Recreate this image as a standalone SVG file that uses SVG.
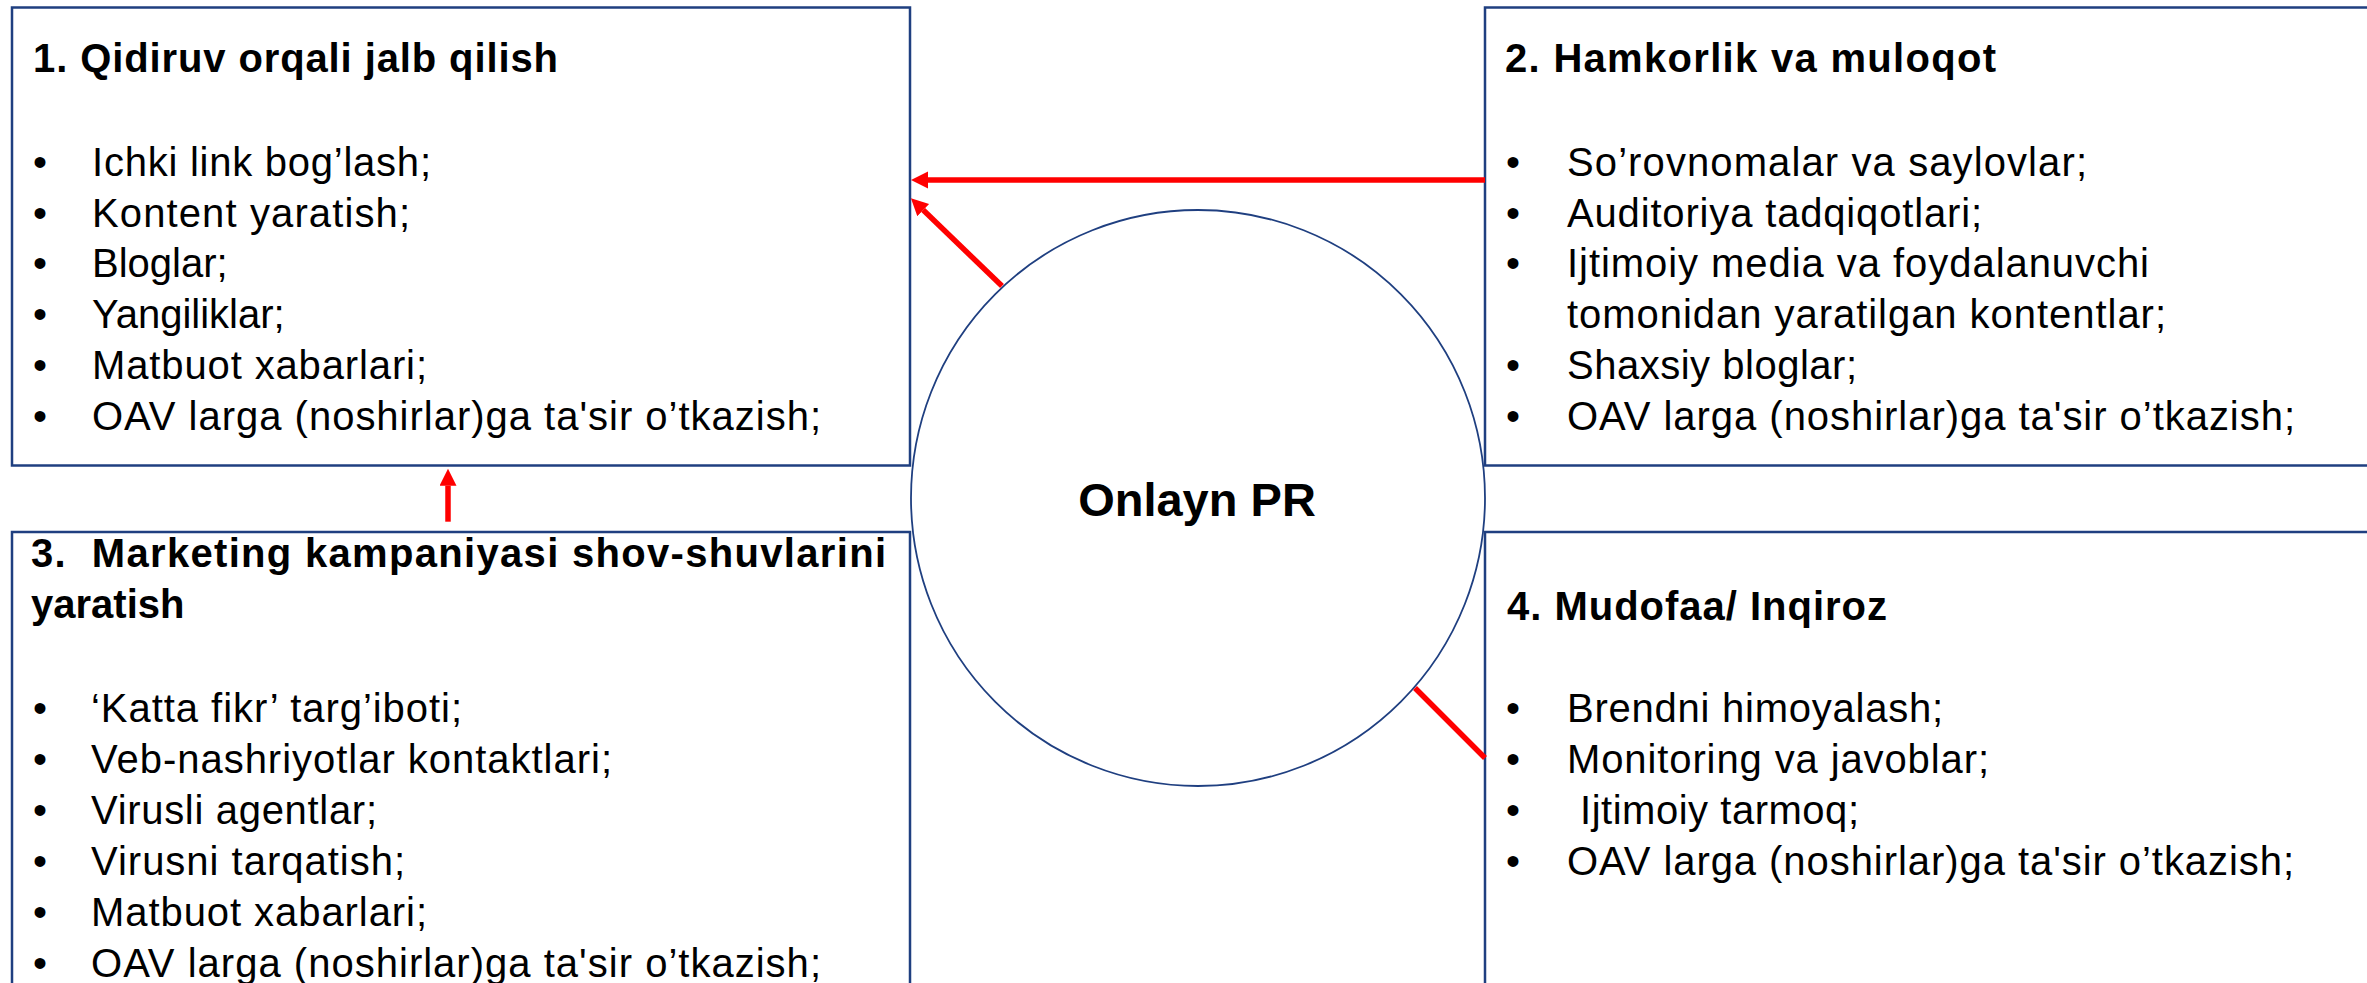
<svg xmlns="http://www.w3.org/2000/svg" width="2367" height="983" viewBox="0 0 2367 983">
<style>
.box{fill:#FFFFFF;stroke:#1F3F80;stroke-width:2.5}
.circ{fill:#FFFFFF;stroke:#1F3F80;stroke-width:1.8}
.h{font-family:"Liberation Sans",Arial,sans-serif;font-weight:bold;font-size:40px;fill:#000000}
.i{font-family:"Liberation Sans",Arial,sans-serif;font-size:40px;fill:#000000}
.c{font-family:"Liberation Sans",Arial,sans-serif;font-weight:bold;font-size:47px;fill:#000000}
.con{stroke:#FF0000;stroke-width:5.5;fill:none}
</style>
<defs>
<marker id="ah" markerUnits="userSpaceOnUse" markerWidth="18" markerHeight="18" refX="0" refY="8.5" orient="auto">
<path d="M0,0 L17,8.5 L0,17 z" fill="#FF0000"/>
</marker>
</defs>
<rect x="0" y="0" width="2367" height="983" fill="#FFFFFF"/>

<g id="box1">
<rect class="box" x="12" y="7.5" width="898" height="458"/>
<text class="h" x="33" y="72" textLength="525" lengthAdjust="spacing">1. Qidiruv orqali jalb qilish</text>
<text class="i" x="33" y="176">•</text><text class="i" x="92" y="176" textLength="339" lengthAdjust="spacing">Ichki link bog’lash;</text>
<text class="i" x="33" y="227">•</text><text class="i" x="92" y="227" textLength="318" lengthAdjust="spacing">Kontent yaratish;</text>
<text class="i" x="33" y="277">•</text><text class="i" x="92" y="277">Bloglar;</text>
<text class="i" x="33" y="328">•</text><text class="i" x="92" y="328">Yangiliklar;</text>
<text class="i" x="33" y="379">•</text><text class="i" x="92" y="379" textLength="335" lengthAdjust="spacing">Matbuot xabarlari;</text>
<text class="i" x="33" y="430">•</text><text class="i" x="92" y="430" textLength="729" lengthAdjust="spacing">OAV larga (noshirlar)ga ta'sir o’tkazish;</text>
</g>

<g id="box2">
<rect class="box" x="1485" y="7.5" width="900" height="458"/>
<text class="h" x="1505" y="72" textLength="491" lengthAdjust="spacing">2. Hamkorlik va muloqot</text>
<text class="i" x="1506" y="176">•</text><text class="i" x="1567" y="176" textLength="520" lengthAdjust="spacing">So’rovnomalar va saylovlar;</text>
<text class="i" x="1506" y="227">•</text><text class="i" x="1567" y="227" textLength="415" lengthAdjust="spacing">Auditoriya tadqiqotlari;</text>
<text class="i" x="1506" y="277">•</text><text class="i" x="1567" y="277" textLength="582" lengthAdjust="spacing">Ijtimoiy media va foydalanuvchi</text>
<text class="i" x="1567" y="328" textLength="599" lengthAdjust="spacing">tomonidan yaratilgan kontentlar;</text>
<text class="i" x="1506" y="379">•</text><text class="i" x="1567" y="379" textLength="290" lengthAdjust="spacing">Shaxsiy bloglar;</text>
<text class="i" x="1506" y="430">•</text><text class="i" x="1567" y="430" textLength="728" lengthAdjust="spacing">OAV larga (noshirlar)ga ta'sir o’tkazish;</text>
</g>

<g id="box3">
<rect class="box" x="12" y="532" width="898" height="500"/>
<text class="h" x="31" y="567" textLength="855" lengthAdjust="spacing" style="white-space:pre">3.  Marketing kampaniyasi shov-shuvlarini</text>
<text class="h" x="31" y="618">yaratish</text>
<text class="i" x="33" y="722">•</text><text class="i" x="91" y="722" textLength="371" lengthAdjust="spacing">‘Katta fikr’ targ’iboti;</text>
<text class="i" x="33" y="773">•</text><text class="i" x="91" y="773" textLength="521" lengthAdjust="spacing">Veb-nashriyotlar kontaktlari;</text>
<text class="i" x="33" y="824">•</text><text class="i" x="91" y="824" textLength="286" lengthAdjust="spacing">Virusli agentlar;</text>
<text class="i" x="33" y="875">•</text><text class="i" x="91" y="875" textLength="314" lengthAdjust="spacing">Virusni tarqatish;</text>
<text class="i" x="33" y="926">•</text><text class="i" x="91" y="926" textLength="336" lengthAdjust="spacing">Matbuot xabarlari;</text>
<text class="i" x="33" y="977">•</text><text class="i" x="91" y="977" textLength="730" lengthAdjust="spacing">OAV larga (noshirlar)ga ta'sir o’tkazish;</text>
</g>

<g id="box4">
<rect class="box" x="1485" y="532" width="900" height="500"/>
<text class="h" x="1507" y="620" textLength="380" lengthAdjust="spacing">4. Mudofaa/ Inqiroz</text>
<text class="i" x="1506" y="722">•</text><text class="i" x="1567" y="722" textLength="376" lengthAdjust="spacing">Brendni himoyalash;</text>
<text class="i" x="1506" y="773">•</text><text class="i" x="1567" y="773" textLength="422" lengthAdjust="spacing">Monitoring va javoblar;</text>
<text class="i" x="1506" y="824">•</text><text class="i" x="1580" y="824" textLength="279" lengthAdjust="spacing">Ijtimoiy tarmoq;</text>
<text class="i" x="1506" y="875">•</text><text class="i" x="1567" y="875" textLength="727" lengthAdjust="spacing">OAV larga (noshirlar)ga ta'sir o’tkazish;</text>
</g>

<g id="center">
<ellipse class="circ" cx="1198" cy="498" rx="287" ry="288"/>
<text class="c" x="1197" y="516" text-anchor="middle">Onlayn PR</text>
</g>

<g id="connectors">
<line class="con" x1="1485" y1="180" x2="928" y2="180" marker-end="url(#ah)"/>
<line class="con" x1="1002" y1="286" x2="923.2" y2="210.1" marker-end="url(#ah)"/>
<line class="con" x1="448" y1="521.7" x2="448" y2="485.7" marker-end="url(#ah)"/>
<line class="con" x1="1415" y1="688" x2="1485" y2="758"/>
</g>
</svg>
